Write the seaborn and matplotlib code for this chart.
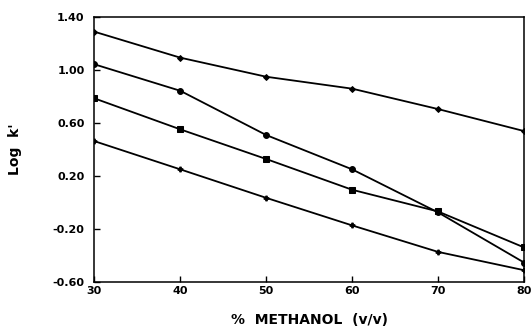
import matplotlib
matplotlib.use("Agg")
import matplotlib.pyplot as plt
import seaborn as sns
import pandas as pd

methanol = [30, 40, 50, 60, 70, 80]
series_a = [1.289, 1.093, 0.949, 0.859, 0.705, 0.539]
series_b = [1.043, 0.843, 0.509, 0.250, -0.075, -0.453]
series_c = [0.786, 0.552, 0.328, 0.096, -0.068, -0.339]
series_d = [0.463, 0.250, 0.035, -0.173, -0.373, -0.511]
series_names = ["A", "B", "C", "D"]
x_ticks = [30, 40, 50, 60, 70, 80]
y_ticks = [1.40, 1.00, 0.60, 0.20, -0.20, -0.60]
y_tick_labels = ["1.40", "1.00", "0.60", "0.20", "-0.20", "-0.60"]

sns.set_style("white")
plt.rcParams['font.family'] = ['DejaVu Sans']
plt.rcParams['text.color'] = 'black'
plt.rcParams['axes.labelcolor'] = 'black'
plt.rcParams['xtick.color'] = 'black'
plt.rcParams['ytick.color'] = 'black'

rows = []
for name, vals in zip(series_names, [series_a, series_b, series_c, series_d]):
    for x, v in zip(methanol, vals):
        rows.append({"methanol": x, "logk": v, "series": name})
df = pd.DataFrame(rows)

fig = plt.figure(figsize=(5.32, 3.33), dpi=100)
ax = fig.add_axes([0.1773, 0.1532, 0.985 - 0.1773, 0.949 - 0.1532])

markers = {"A": "D", "B": "o", "C": "s", "D": "P"}
sizes = {"A": 3, "B": 4.2, "C": 4.2, "D": 3.5}
for name in series_names:
    sub = df[df["series"] == name]
    sns.lineplot(data=sub, x="methanol", y="logk", ax=ax, color="black",
                 marker=markers[name], markersize=sizes[name],
                 markeredgecolor="black", markerfacecolor="black",
                 linewidth=1.3, legend=False)

ax.set_xlim(30, 80)
ax.set_ylim(-0.60, 1.40)
ax.set_xticks(x_ticks)
ax.set_xticklabels([str(t) for t in x_ticks], fontweight="bold", fontsize=8, color="black")
ax.set_yticks(y_ticks)
ax.set_yticklabels(y_tick_labels, fontweight="bold", fontsize=8, color="black")
ax.tick_params(axis="x", direction="in", length=4, width=1, pad=3, bottom=True, colors="black")
ax.tick_params(axis="y", direction="in", length=4, width=1, pad=7, left=True, colors="black")

for s in ax.spines.values():
    s.set_visible(True)
    s.set_color("black")
    s.set_linewidth(1.1)

ax.set_xlabel("%  METHANOL  (v/v)", fontweight="bold", fontsize=10, labelpad=12, color="black")
ax.set_ylabel("Log  k'", fontweight="bold", fontsize=10, labelpad=22, color="black")
ax.grid(False)

fig.savefig("out.png", dpi=100, facecolor="white")
